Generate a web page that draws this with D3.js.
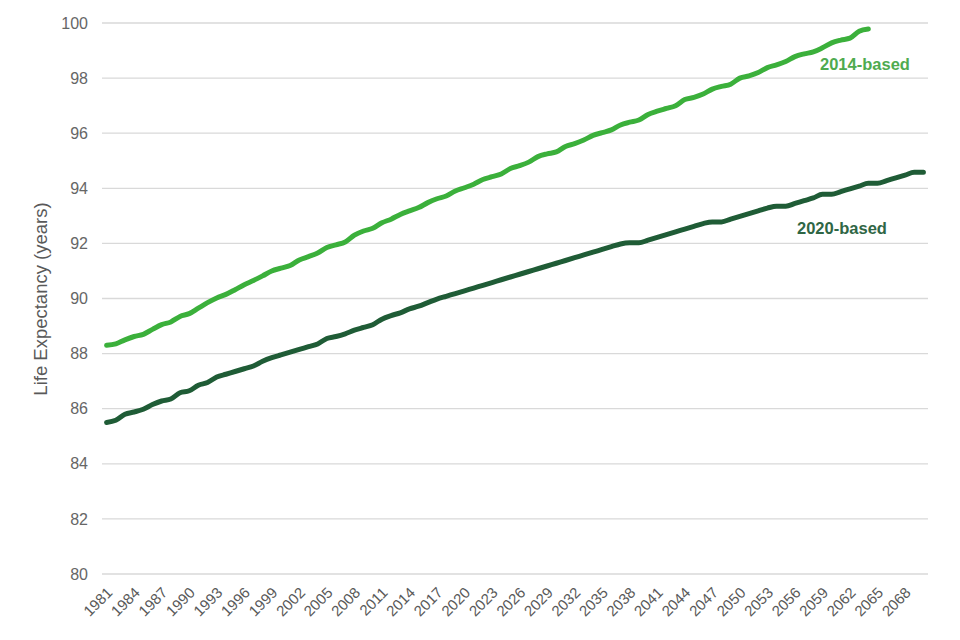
<!DOCTYPE html>
<html><head><meta charset="utf-8">
<script src="https://cdn.jsdelivr.net/npm/d3@7/dist/d3.min.js"></script>
<style>
body{margin:0;background:#fff;}
svg{font-family:"Liberation Sans",Arial,sans-serif;}
</style></head>
<body><svg id="c" width="960" height="640"></svg>
<script>
const years = d3.range(1981, 2071);
const yTicks = [80,82,84,86,88,90,92,94,96,98,100];
const seriesNames = ["2014-based","2020-based"];
const based2014 = [88.30,88.35,88.50,88.62,88.70,88.88,89.05,89.15,89.35,89.45,
89.65,89.85,90.02,90.15,90.32,90.50,90.65,90.82,91.00,91.10,
91.20,91.40,91.52,91.65,91.85,91.95,92.05,92.30,92.45,92.55,
92.75,92.88,93.05,93.18,93.30,93.48,93.62,93.72,93.90,94.02,
94.15,94.32,94.42,94.52,94.72,94.82,94.95,95.15,95.25,95.32,
95.52,95.62,95.75,95.92,96.02,96.12,96.30,96.40,96.48,96.68,
96.80,96.90,97.00,97.22,97.30,97.42,97.60,97.70,97.78,98.00,
98.08,98.20,98.38,98.48,98.60,98.78,98.88,98.95,99.10,99.28,
99.38,99.45,99.70,99.78];
const based2020 = [85.50,85.58,85.80,85.88,85.98,86.15,86.28,86.35,86.58,86.65,
86.85,86.95,87.15,87.25,87.35,87.45,87.55,87.72,87.85,87.95,
88.05,88.15,88.25,88.35,88.55,88.62,88.72,88.85,88.95,89.05,
89.25,89.38,89.48,89.62,89.72,89.85,89.98,90.08,90.18,90.28,
90.38,90.48,90.58,90.68,90.78,90.88,90.98,91.08,91.18,91.28,
91.38,91.48,91.58,91.68,91.78,91.88,91.98,92.02,92.02,92.12,
92.22,92.32,92.42,92.52,92.62,92.72,92.78,92.78,92.88,92.98,
93.08,93.18,93.28,93.35,93.35,93.45,93.55,93.65,93.78,93.78,
93.88,93.98,94.08,94.18,94.18,94.28,94.38,94.48,94.58,94.58];

const svg = d3.select("#c");
const L = 102, R = 928, T = 23, B = 574;
const x = d3.scaleBand().domain(years).range([L, R]);
const y = d3.scaleLinear().domain([80, 100]).range([B, T]);
const cx = d => x(d) + x.bandwidth()/2;

// gridlines
svg.append("g").selectAll("line").data(yTicks).join("line")
  .attr("x1", L).attr("x2", R)
  .attr("y1", d => y(d)).attr("y2", d => y(d))
  .attr("stroke", "#d9d9d9").attr("stroke-width", 1.3);

// y labels
svg.append("g").selectAll("text").data(yTicks).join("text")
  .attr("x", 88).attr("y", d => y(d)).attr("dy", "0.35em")
  .attr("text-anchor", "end").attr("font-size", 16).attr("fill", "#666")
  .text(d => d);

// y title
svg.append("text").attr("transform", "translate(47,299) rotate(-90)")
  .attr("text-anchor", "middle").attr("font-size", 18.5).attr("fill", "#595959")
  .text("Life Expectancy (years)");

// x labels
const xLabels = years.filter((d, i) => i % 3 === 0);
svg.append("g").selectAll("text").data(xLabels).join("text")
  .attr("transform", d => `translate(${cx(d)+3},590) rotate(-45)`)
  .attr("text-anchor", "end").attr("dy", "0.35em")
  .attr("font-size", 15).attr("fill", "#595959")
  .text(d => d);

const line = d3.line().x(d => cx(d[0])).y(d => y(d[1])).curve(d3.curveMonotoneX);
const s2014 = based2014.map((v, i) => [years[i], v]);
const s2020 = based2020.map((v, i) => [years[i], v]);

svg.append("path").datum(s2020).attr("d", line).attr("fill", "none")
  .attr("stroke", "#1f5c36").attr("stroke-width", 5).attr("stroke-linecap", "round").attr("stroke-linejoin", "round");
svg.append("path").datum(s2014).attr("d", line).attr("fill", "none")
  .attr("stroke", "#3bb03b").attr("stroke-width", 5).attr("stroke-linecap", "round").attr("stroke-linejoin", "round");

svg.append("text").attr("x", 820).attr("y", 70).attr("font-size", 16.5).attr("font-weight", "bold")
  .attr("fill", "#4fab4f").text(seriesNames[0]);
svg.append("text").attr("x", 797).attr("y", 234).attr("font-size", 16.5).attr("font-weight", "bold")
  .attr("fill", "#2f6645").text(seriesNames[1]);
</script></body></html>
